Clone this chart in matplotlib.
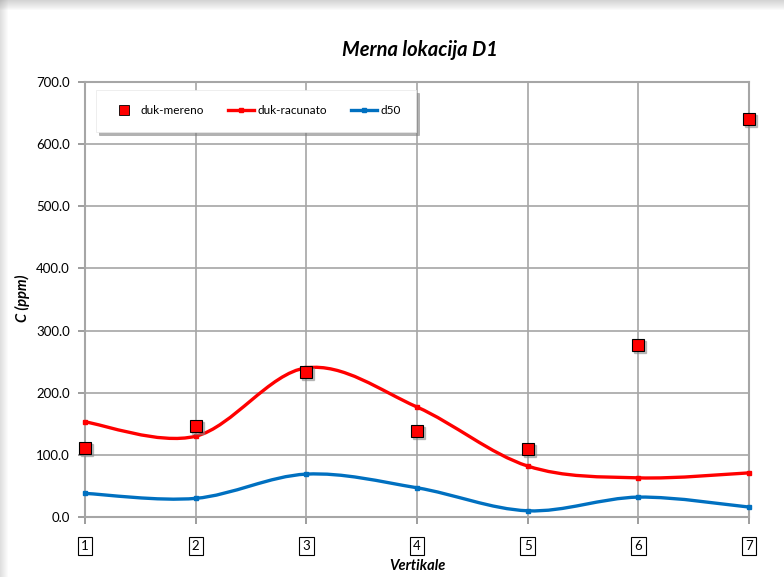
import matplotlib
matplotlib.use('Agg')
import matplotlib.pyplot as plt
import numpy as np
from matplotlib.path import Path
from matplotlib.patches import PathPatch, Rectangle
from matplotlib.lines import Line2D

# podaci ocitani sa grafika
vertikale = [1, 2, 3, 4, 5, 6, 7]
duk_mereno = [111, 146, 233, 138, 109, 277, 640]
duk_racunato = [153, 130, 240, 177, 82, 63, 71]
d50 = [38, 30, 69, 47, 10, 32, 16]
y_ticks = [0, 100, 200, 300, 400, 500, 600, 700]

plt.rcParams['font.family'] = ['Lato', 'DejaVu Sans']

W, H = 784, 577
fig = plt.figure(figsize=(W / 100, H / 100), dpi=100)
fig.patch.set_facecolor('white')

# senka okvira (gore i levo)
for i in range(10):
    fig.add_artist(Rectangle((0, 1 - (10 - i) / H), 1, (10 - i) / H, transform=fig.transFigure,
                             facecolor='#808080', alpha=0.035, edgecolor='none', zorder=-5))
for i in range(8):
    fig.add_artist(Rectangle((0, 0), (8 - i) / W, 1, transform=fig.transFigure,
                             facecolor='#808080', alpha=0.03, edgecolor='none', zorder=-5))

ax = fig.add_axes([85 / W, 1 - 517 / H, (749 - 85) / W, (517 - 82) / H])
ax.set_xlim(1, 7)
ax.set_ylim(0, 700)


def smooth_path(xs, ys, t=1 / 6):
    # Bezier glacanje kao u Excelu
    pts = np.column_stack([xs, ys]).astype(float)
    n = len(pts)
    verts = [pts[0]]
    codes = [Path.MOVETO]
    for i in range(n - 1):
        p0 = pts[i - 1] if i > 0 else pts[i]
        p1 = pts[i]
        p2 = pts[i + 1]
        p3 = pts[i + 2] if i + 2 < n else pts[i + 1]
        c1 = p1 + (p2 - p0) * t
        c2 = p2 - (p3 - p1) * t
        verts += [c1, c2, p2]
        codes += [Path.CURVE4] * 3
    return Path(verts, codes)


red = '#ff0000'
blue = '#0070c0'

for ys, col in [(duk_racunato, red), (d50, blue)]:
    ax.add_patch(PathPatch(smooth_path(vertikale, ys), facecolor='none', edgecolor=col,
                           lw=2.4, zorder=3, capstyle='round', clip_on=False))
    ax.plot(vertikale, ys, linestyle='none', marker='s', ms=3.5, color=col, zorder=4, clip_on=False)

# mereno - kvadrati sa senkom
shadow = ax.transData + matplotlib.transforms.ScaledTranslation(2 / 100, -2 / 100, fig.dpi_scale_trans)
ax.plot(vertikale, duk_mereno, linestyle='none', marker='s', ms=9,
        color='#888888', alpha=0.5, zorder=4, transform=shadow, clip_on=False)
ax.plot(vertikale, duk_mereno, linestyle='none', marker='s', ms=9, markerfacecolor=red,
        markeredgecolor='black', markeredgewidth=0.8, zorder=5, clip_on=False)

ax.set_xticks(vertikale)
ax.set_yticks(y_ticks)
ax.set_yticklabels([f'{v:.1f}' for v in y_ticks], fontsize=9.5)
ax.set_xticklabels([])
ax.grid(True, color='#a6a6a6', lw=1.2)
ax.set_axisbelow(True)
for s in ax.spines.values():
    s.set_color('#a6a6a6')
    s.set_linewidth(1.5)
ax.tick_params(axis='both', direction='out', length=5, color='#8c8c8c', width=1.2)
ax.tick_params(axis='y', pad=6)

for v in vertikale:
    ax.annotate(str(v), (v, 0), xytext=(0, -21), textcoords='offset points', ha='center', va='center',
                fontsize=9.5, bbox=dict(boxstyle='square,pad=0.25', fc='white', ec='black', lw=0.8))

fig.text(420 / W, 1 - 50 / H, 'Merna lokacija D1', ha='center', va='center', fontsize=14.5,
         fontweight='bold', style='italic')
fig.text(417 / W, 1 - 566 / H, 'Vertikale', ha='center', va='center', fontsize=10.5,
         fontweight='bold', style='italic')
fig.text(22 / W, 1 - 298 / H, 'C (ppm)', ha='center', va='center', fontsize=10.5,
         fontweight='bold', style='italic', rotation=90)

handles = [
    Line2D([], [], linestyle='none', marker='s', ms=7, markerfacecolor=red, markeredgecolor='black', markeredgewidth=0.6),
    Line2D([], [], color=red, lw=2.4, marker='s', ms=3),
    Line2D([], [], color=blue, lw=2.4, marker='s', ms=3),
]
leg = fig.legend(handles, ['duk-mereno', 'duk-racunato', 'd50'], ncol=3, loc='center',
                 bbox_to_anchor=(256 / W, 1 - 111 / H), fontsize=8.5, frameon=True, fancybox=False,
                 shadow={'color': '#7f7f7f', 'alpha': 0.6}, handlelength=2.2, handletextpad=0.3,
                 columnspacing=2.0, borderpad=1.3, edgecolor='#e8e8e8')
leg.get_frame().set_linewidth(0.5)

fig.savefig('out.png', dpi=100)
